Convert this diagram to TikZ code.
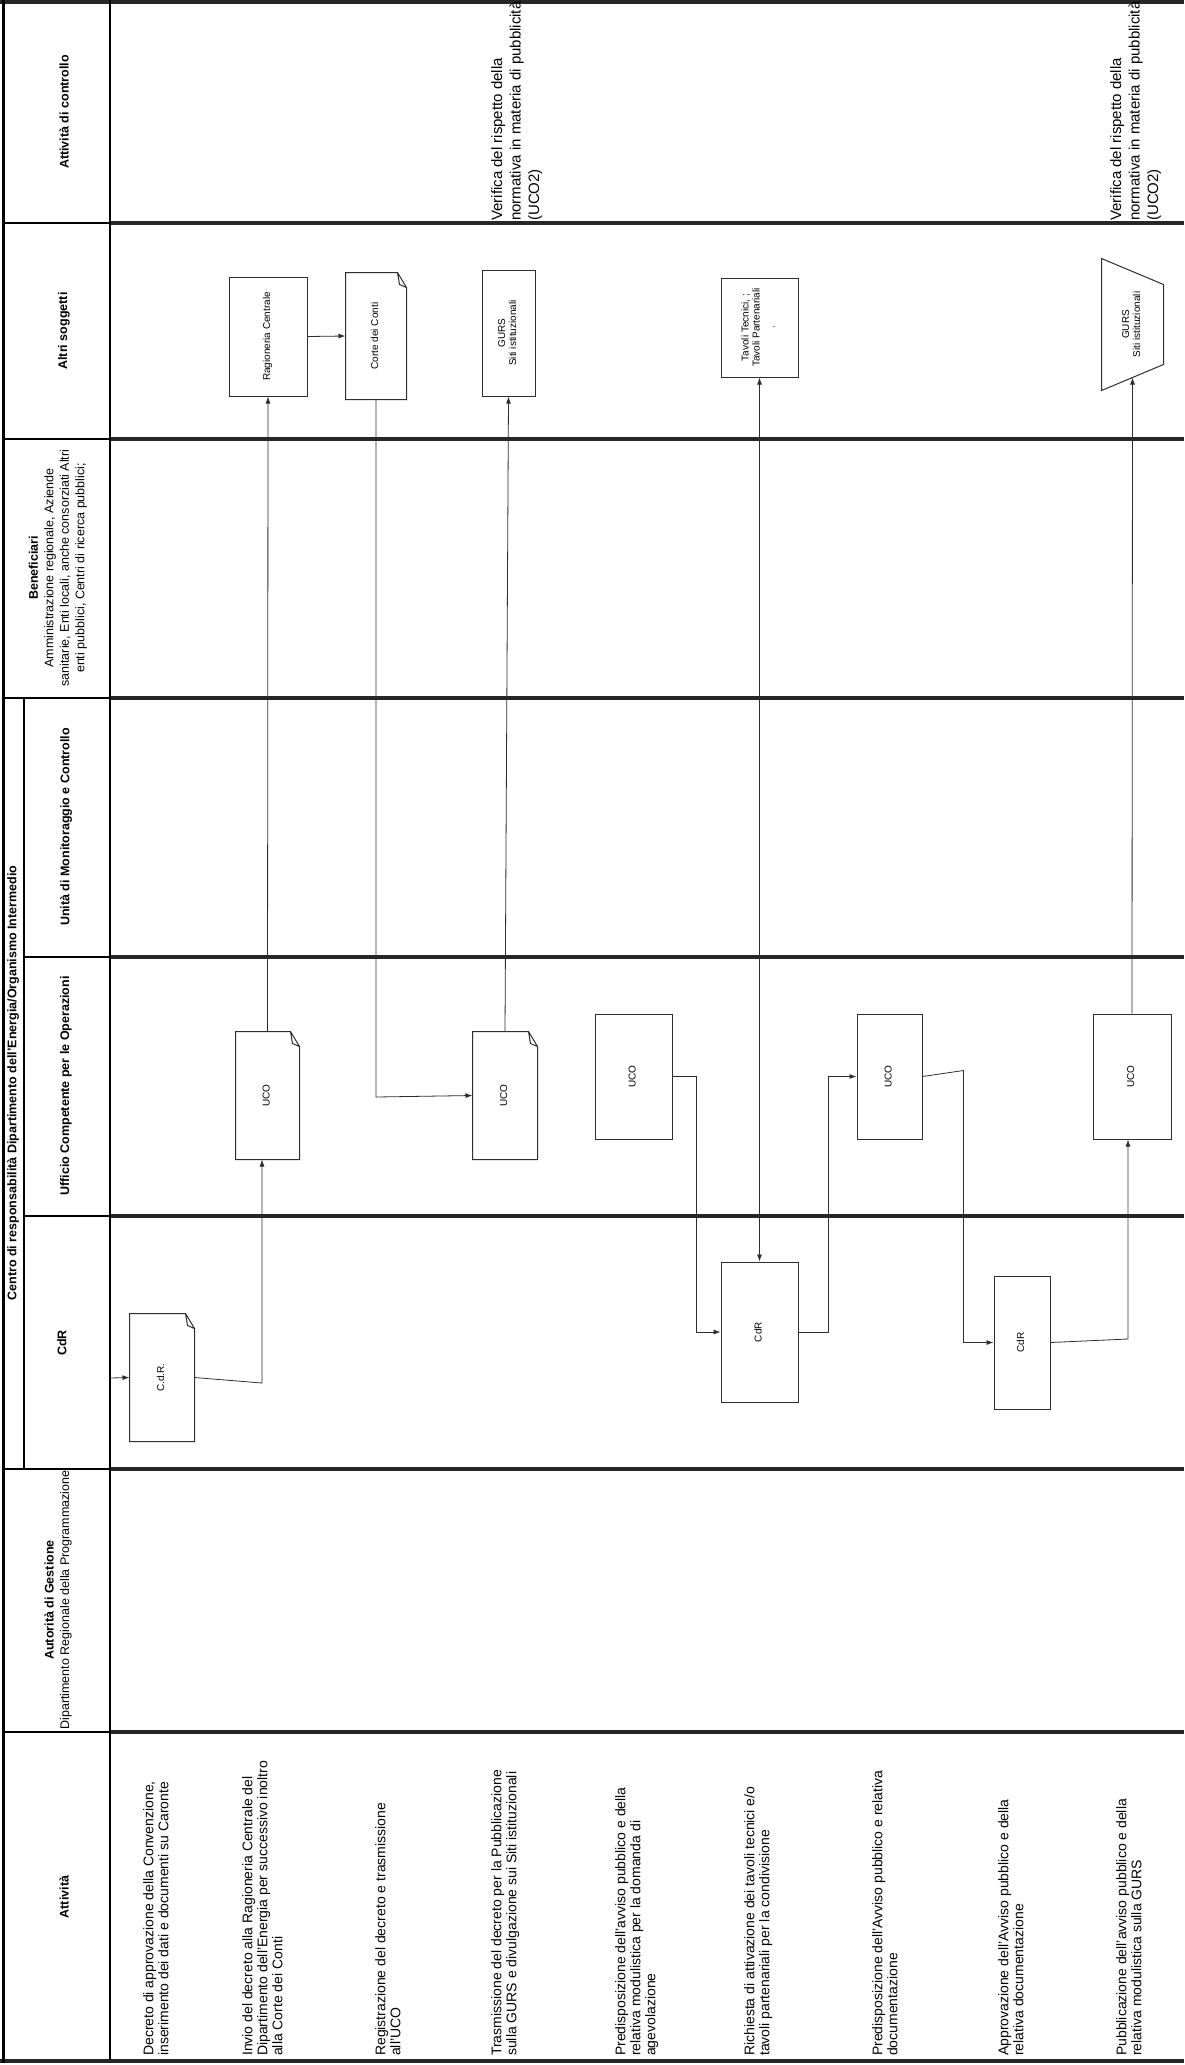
\documentclass[tikz,border=0pt]{standalone}
\usepackage{fontspec}
\setmainfont{Liberation Sans}
\usetikzlibrary{arrows.meta}
\definecolor{lane}{HTML}{262626}
\definecolor{edge}{HTML}{2E2E2E}
\tikzset{
  every picture/.style={
    line join=miter,
    >={Latex[length=7pt,width=5pt]},  % one arrow tip everywhere
  },
  laneline/.style={draw=lane, line width=4pt},
  headline/.style={draw=black, line width=2pt},
  box/.style={draw=edge, line width=1pt, fill=white, inner sep=0pt,
    font=\fontsize{10}{11}\selectfont},
  docbox/.style={box, draw=none},
  flow/.style={draw=edge, line width=0.8pt, ->},
  head/.style={rotate=90, align=center, inner sep=0pt,
    font=\fontsize{12.5}{15}\selectfont\bfseries},
  headtwo/.style={rotate=90, align=center, inner sep=0pt,
    font=\fontsize{12.5}{15.5}\selectfont},
  acttext/.style={rotate=90, anchor=north west, align=left, inner sep=0pt,
    font=\fontsize{14}{15}\selectfont},
  ctrltext/.style={rotate=90, anchor=north west, align=left, inner sep=0pt,
    font=\fontsize{15}{18.5}\selectfont},
}
\newcommand{\vlabel}[1]{\rotatebox{90}{\begin{tabular}{@{}c@{}}#1\end{tabular}}}
% document outline with folded corner, drawn round a named node
\newcommand{\docear}[1]{%
  \draw[draw=edge, line width=1pt] (#1.north west) -- ([xshift=-9pt]#1.north east)
    -- ([yshift=-15pt]#1.north east) -- (#1.south east) -- (#1.south west) -- cycle
    ([xshift=-9pt]#1.north east) -- ([xshift=-7pt,yshift=-12pt]#1.north east)
    -- ([yshift=-15pt]#1.north east);}

\begin{document}
\begin{tikzpicture}[x=1pt,y=-1pt]
\useasboundingbox (0,0) rectangle (1184,2065);

% lanes
\foreach \y/\x in {223/3,439/3,698/3,957/24,1216/24,1469/3,1732/3}{
  \draw[laneline] (110,\y) -- (1184,\y);
  \draw[headline] (\x,\y) -- (110,\y);
}
\draw[laneline] (0,2) -- (1184,2);
\draw[laneline] (0,2061) -- (1184,2061);
\draw[line width=3pt] (3,0) -- (3,2063);
\draw[line width=2.5pt] (24,698) -- (24,1469);
\draw[headline] (110,0) -- (110,2060);

% lane headers
\node[head] (hctrl) at (64,112) {Attività di controllo};
\node[head] (haltri) at (64,331) {Altri soggetti};
\node[headtwo] (hbenef) at (58,568) {\textbf{Beneficiari}\\Amministrazione regionale, Aziende\\sanitarie, Enti locali, anche consorziati Altri\\enti pubblici, Centri di ricerca pubblici;};
\node[head] (hcentro) at (13,1083) {Centro di responsabilità Dipartimento dell'Energia/Organismo Intermedio};
\node[head] (hmon) at (66,827) {Unità di Monitoraggio e Controllo};
\node[head] (huco) at (66,1086) {Ufficio Competente per le Operazioni};
\node[head] (hcdr) at (62,1343) {CdR};
\node[headtwo] (hadg) at (58,1600) {\textbf{Autorità di Gestione}\\Dipartimento Regionale della Programmazione};
\node[head] (hatt) at (64,1897) {Attività};

% control notes
\node[ctrltext] (ver1) at (491,221) {Verifica del rispetto della\\normativa in materia di pubblicità\\(UCO2)};
\node[ctrltext] (ver2) at (1110,221) {Verifica del rispetto della\\normativa in materia di pubblicità\\(UCO2)};

% activities
\node[acttext] (a1) at (143,2056) {Decreto di approvazione della Convenzione,\\inserimento dei dati e documenti su Caronte};
\node[acttext] (a2) at (242,2056) {Invio del decreto alla Ragioneria Centrale del\\Dipartimento dell'Energia per successivo inoltro\\alla Corte dei Conti};
\node[acttext] (a3) at (375,2056) {Registrazione del decreto e trasmissione\\all'UCO};
\node[acttext] (a4) at (491,2056) {Trasmissione del decreto per la Pubblicazione\\sulla GURS e divulgazione sui Siti istituzionali};
\node[acttext] (a5) at (615,2056) {Predisposizione dell'avviso pubblico e della\\relativa modulistica per la domanda di\\agevolazione};
\node[acttext] (a6) at (744,2056) {Richiesta di attivazione dei tavoli tecnici e/o\\tavoli partenariali per la condivisione};
\node[acttext] (a7) at (872,2056) {Predisposizione dell'Avviso pubblico e relativa\\documentazione};
\node[acttext] (a8) at (998,2056) {Approvazione dell'Avviso pubblico e della\\relativa documentazione};
\node[acttext] (a9) at (1116,2056) {Pubblicazione dell'avviso pubblico e della\\relativa modulistica sulla GURS};

% altri soggetti
\node[box, minimum width=78pt, minimum height=119pt] (rag) at (268,336.5) {\vlabel{Ragioneria Centrale}};
\node[docbox, minimum width=60pt, minimum height=126pt] (corte) at (376,336) {\vlabel{Corte dei Conti}};
\docear{corte}
\node[box, minimum width=53pt, minimum height=126pt] (gurs1) at (508.5,333) {\vlabel{GURS\\Siti istituzionali}};
\node[box, minimum width=77pt, minimum height=99pt] (tavoli) at (759.5,327.5) {\vlabel{Tavoli Tecnici, ;\\Tavoli Partenariali\\[4pt].}};
\node[docbox, minimum width=61pt, minimum height=131pt] (gurs2) at (1132.5,324.5) {\vlabel{GURS\\Siti istituzionali}};
\draw[draw=edge, line width=1pt] (gurs2.north west) -- ([yshift=-26pt]gurs2.north east)
  -- ([yshift=26pt]gurs2.south east) -- (gurs2.south west) -- cycle;

% ufficio competente
\node[docbox, minimum width=63pt, minimum height=127pt] (uco1) at (267.5,1095.5) {\vlabel{UCO}};
\docear{uco1}
\node[docbox, minimum width=64pt, minimum height=127pt] (uco2) at (505,1095.5) {\vlabel{UCO}};
\docear{uco2}
\node[box, minimum width=77pt, minimum height=125pt] (uco3) at (633.5,1076.5) {\vlabel{UCO}};
\node[box, minimum width=65pt, minimum height=125pt] (uco4) at (889.5,1076.5) {\vlabel{UCO}};
\node[box, minimum width=78pt, minimum height=125pt] (uco5) at (1132,1076.5) {\vlabel{UCO}};

% CdR
\node[docbox, minimum width=64pt, minimum height=127pt] (cdr0) at (162,1377.5) {\vlabel{C.d.R.}};
\docear{cdr0}
\node[box, minimum width=77pt, minimum height=140pt] (cdr1) at (759.5,1332) {\vlabel{CdR}};
\node[box, minimum width=56pt, minimum height=133pt] (cdr2) at (1022,1342.5) {\vlabel{CdR}};

% flow
\coordinate (cdrin) at (110,1378);
\draw[flow] (cdrin) -- (cdr0.west);
\draw[flow] (cdr0.east) -- (262,1383) -- ([xshift=-5.5pt]uco1.south);
\draw[flow] (uco1.north) -- (rag.south);
\draw[flow] (rag.east) -- (corte.west);
\draw[flow] (corte.south) -- (376,1097) -- (uco2.west);
\draw[flow] (uco2.north) -- (gurs1.south);
\draw[flow] (uco3.east) -- ++(24,0) |- (cdr1.west);
\draw[flow, <->] (cdr1.north) -- (tavoli.south);
\draw[flow] (cdr1.east) -- ++(30,0) |- (uco4.west);
\draw[flow] (uco4.east) -- ++(41,-6) |- (cdr2.west);
\draw[flow] (cdr2.east) -- (1128,1339) -- ([xshift=-4pt]uco5.south);
\draw[flow] (uco5.north) -- ([yshift=13pt]gurs2.south);
\end{tikzpicture}
\end{document}
